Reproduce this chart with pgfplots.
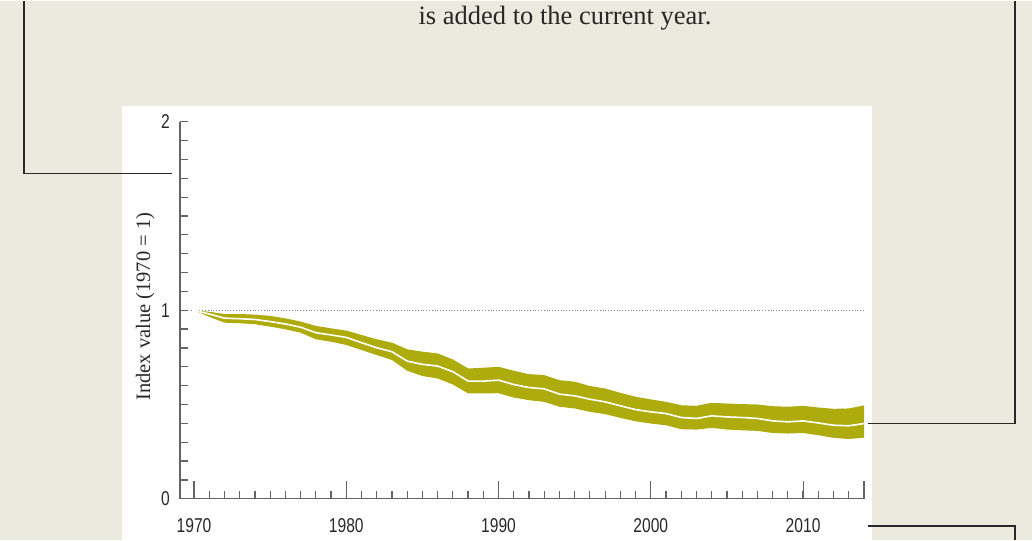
\documentclass[border=0pt]{standalone}
\usepackage{fontspec}
\usepackage{pgfplots}
\pgfplotsset{compat=1.18}
\usepackage{pgfplotstable}
\setmainfont{Liberation Serif}
\newfontfamily\condsans[FakeStretch=0.78]{Liberation Sans}
\definecolor{bgc}{RGB}{236,233,222}
\definecolor{band}{RGB}{174,172,12}
\definecolor{linec}{RGB}{40,40,40}
\definecolor{tickc}{RGB}{100,100,100}
\definecolor{labc}{RGB}{40,40,40}
\pgfplotstableread{
year mid
1970 1.000
1971 0.980
1972 0.958
1973 0.955
1974 0.951
1975 0.940
1976 0.927
1977 0.910
1978 0.881
1979 0.869
1980 0.856
1981 0.828
1982 0.801
1983 0.780
1984 0.730
1985 0.713
1986 0.704
1987 0.674
1988 0.624
1989 0.624
1990 0.629
1991 0.606
1992 0.590
1993 0.583
1994 0.555
1995 0.546
1996 0.528
1997 0.514
1998 0.493
1999 0.473
2000 0.461
2001 0.452
2002 0.431
2003 0.426
2004 0.440
2005 0.434
2006 0.431
2007 0.426
2008 0.413
2009 0.408
2010 0.413
2011 0.402
2012 0.390
2013 0.387
2014 0.399
}\midtab
% band outline: upper bound forward, lower bound backward
\pgfplotstableread{
year value
1970 1.000
1971 0.992
1972 0.980
1973 0.980
1974 0.977
1975 0.970
1976 0.957
1977 0.940
1978 0.917
1979 0.904
1980 0.892
1981 0.869
1982 0.846
1983 0.828
1984 0.793
1985 0.780
1986 0.771
1987 0.739
1988 0.691
1989 0.695
1990 0.700
1991 0.679
1992 0.661
1993 0.656
1994 0.629
1995 0.621
1996 0.598
1997 0.585
1998 0.562
1999 0.541
2000 0.527
2001 0.514
2002 0.496
2003 0.493
2004 0.509
2005 0.505
2006 0.502
2007 0.500
2008 0.491
2009 0.488
2010 0.493
2011 0.484
2012 0.477
2013 0.479
2014 0.495
2014 0.324
2013 0.317
2012 0.323
2011 0.337
2010 0.349
2009 0.346
2008 0.349
2007 0.360
2006 0.363
2005 0.367
2004 0.376
2003 0.367
2002 0.369
2001 0.390
2000 0.399
1999 0.411
1998 0.429
1997 0.449
1996 0.461
1995 0.479
1994 0.488
1993 0.514
1992 0.523
1991 0.537
1990 0.560
1989 0.559
1988 0.559
1987 0.606
1986 0.638
1985 0.651
1984 0.679
1983 0.736
1982 0.762
1981 0.789
1980 0.816
1979 0.833
1978 0.846
1977 0.881
1976 0.899
1975 0.913
1974 0.926
1973 0.931
1972 0.934
1971 0.965
1970 1.000
}\bandtab
\begin{document}
\begin{tikzpicture}
\fill[bgc] (0,0) rectangle (1032pt,539pt);
\fill[white] (122pt,0) rectangle (872pt,434pt);
% connector lines
\draw[linec, line width=1.5pt] (24pt,539pt) -- (24pt,366pt) -- (172pt,366pt);
\draw[linec, line width=1.5pt] (1015pt,539pt) -- (1015pt,116pt) -- (868pt,116pt);
\draw[linec, line width=1.5pt] (868pt,14pt) -- (1015pt,14pt) -- (1015pt,0pt);
% top text
\node[anchor=base, font=\fontsize{26.5}{30}\selectfont, text=labc, inner sep=0pt] at (565pt,515pt) {is added to the current year.};
\begin{axis}[
  at={(180pt,41pt)}, anchor=south west,
  scale only axis, width=684pt, height=377pt,
  xmin=1969.08, xmax=2014, ymin=0, ymax=2,
  axis x line*=bottom, axis y line*=left,
  axis line style={tickc, line width=1.3pt},
  tick align=inside,
  tick style={tickc, line width=1.2pt},
  major tick length=8pt,
  xtick={1971,1972,...,2013}, xticklabels={},
  extra x ticks={1970,1980,1990,2000,2010,2014},
  extra x tick labels={1970,1980,1990,2000,2010,{}},
  extra x tick style={major tick length=18pt},
  ytick={0,0.1,...,2.05}, yticklabels={},
  extra y ticks={0,1,2},
  extra y tick labels={0,1,2},
  xticklabel style={font=\condsans\fontsize{20}{20}\selectfont, text=labc, inner sep=0pt, anchor=north, yshift=-20pt},
  yticklabel style={font=\condsans\fontsize{20}{20}\selectfont, text=labc, inner sep=0pt, anchor=east, xshift=-10pt},
]
\addplot[tickc!80, dotted, line width=0.8pt] coordinates {(1969.8,1) (2014,1)};
\addplot[fill=band, draw=none] table[x=year, y=value] {\bandtab};
\addplot[white, line width=1.6pt] table[x=year, y=mid] {\midtab};
\end{axis}
\node[rotate=90, anchor=base, inner sep=0pt, font=\fontsize{20.5}{24}\selectfont, text=labc] at (150pt,233pt) {Index value (1970 = 1)};
\end{tikzpicture}
\end{document}
